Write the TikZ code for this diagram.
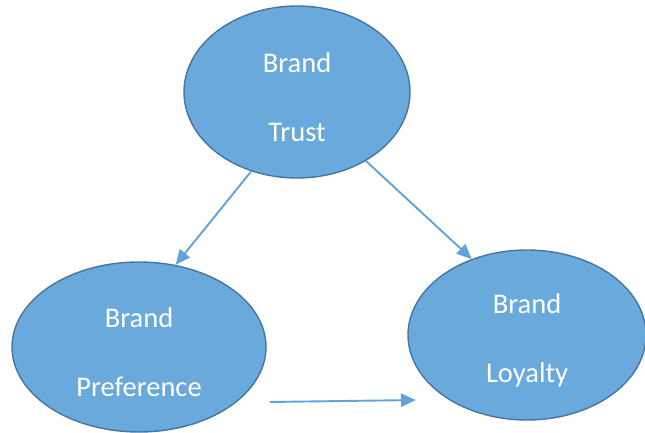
\documentclass[tikz,border=0pt]{standalone}
\usepackage{fontspec}
\setmainfont{Carlito}
\usetikzlibrary{shapes.geometric}
\usepgflibrary{arrows.meta}
\definecolor{ellfill}{RGB}{106,169,219}
\definecolor{ellborder}{RGB}{70,118,160}
\definecolor{linkblue}{RGB}{96,163,218}
\newcommand{\topstrut}{\rule{0pt}{30pt}}
\tikzset{construct/.style={ellipse, draw=ellborder, fill=ellfill, line width=1.4pt, inner sep=0pt,
		text=white, align=center, font=\fontsize{28.5}{69}\selectfont},
	link/.style={line width=1.9pt, draw=linkblue, -{Triangle[length=15pt,width=13pt,fill=linkblue]}}}
\begin{document}
\begin{tikzpicture}[x=1pt,y=1pt]
		\useasboundingbox (0,0) rectangle (645,432);

		\node [construct, minimum width=226, minimum height=172] (trust) at (297,340) {\topstrut Brand\\Trust};
		\node [construct, minimum width=254, minimum height=170] (pref) at (139,85) {\topstrut Brand\\Preference};
		\node [construct, minimum width=238, minimum height=170] (loyal) at (527,97) {\topstrut Brand\\Loyalty};

		\coordinate (pref out) at (270,30);
		\coordinate (loyal in) at (416,32);

		\draw [link] (trust.240.6) -- (pref.66);
		\draw [link] (trust.-45) -- (loyal.126);
		\draw [link] (pref out) -- (loyal in);
	\end{tikzpicture}
\end{document}
